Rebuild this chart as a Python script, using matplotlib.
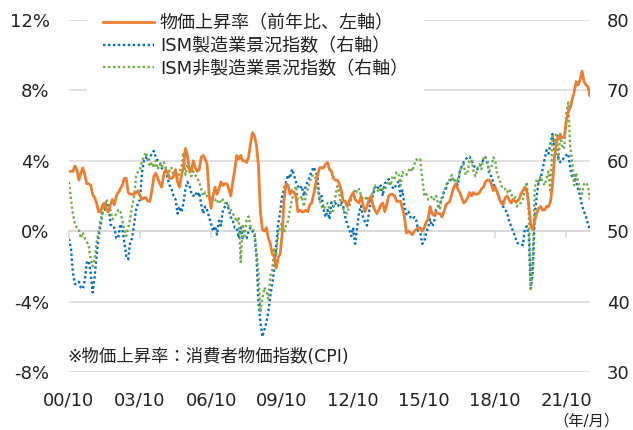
import numpy as np
import matplotlib
matplotlib.use("Agg")
from matplotlib import pyplot as plt

plt.rcParams["font.family"] = ["DejaVu Sans", "Noto Sans CJK JP"]

# monthly, 2000/10 .. 2022/10
cpi_yoy = [
    3.4, 3.4, 3.4,
    3.7, 3.5, 2.9, 3.3, 3.6, 3.2, 2.7, 2.7, 2.6, 2.1, 1.9, 1.6,
    1.1, 1.1, 1.5, 1.6, 1.2, 1.1, 1.5, 1.8, 1.5, 2.0, 2.2, 2.4,
    2.6, 3.0, 3.0, 2.2, 2.1, 2.1, 2.1, 2.2, 2.3, 2.0, 1.8, 1.9,
    1.9, 1.7, 1.7, 2.3, 3.1, 3.3, 3.0, 2.7, 2.5, 3.2, 3.5, 3.3,
    3.0, 3.0, 3.1, 3.5, 2.8, 2.5, 3.2, 3.6, 4.7, 4.3, 3.5, 3.4,
    4.0, 3.6, 3.4, 3.5, 4.2, 4.3, 4.1, 3.8, 2.1, 1.3, 2.0, 2.5,
    2.1, 2.4, 2.8, 2.6, 2.7, 2.7, 2.4, 2.0, 2.8, 3.5, 4.3, 4.1,
    4.3, 4.0, 4.0, 3.9, 4.2, 5.0, 5.6, 5.4, 4.9, 3.7, 1.1, 0.1,
    0.0, 0.2, -0.4, -0.7, -1.3, -1.4, -2.1, -1.5, -1.3, -0.2, 1.8, 2.7,
    2.6, 2.1, 2.3, 2.2, 2.0, 1.1, 1.2, 1.1, 1.1, 1.2, 1.1, 1.5,
    1.6, 2.1, 2.7, 3.2, 3.6, 3.6, 3.6, 3.8, 3.9, 3.5, 3.4, 3.0,
    2.9, 2.9, 2.7, 2.3, 1.7, 1.7, 1.4, 1.7, 2.0, 2.2, 1.8, 1.7,
    1.6, 2.0, 1.5, 1.1, 1.4, 1.8, 2.0, 1.5, 1.2, 1.0, 1.2, 1.5,
    1.6, 1.1, 1.5, 2.0, 2.1, 2.1, 2.0, 1.7, 1.7, 1.7, 1.3, 0.8,
    -0.1, 0.0, -0.1, -0.2, 0.0, 0.1, 0.2, 0.2, 0.0, 0.2, 0.5, 0.7,
    1.4, 1.0, 0.9, 1.1, 1.0, 1.0, 0.8, 1.1, 1.5, 1.6, 1.7, 2.1,
    2.5, 2.7, 2.4, 2.2, 1.9, 1.6, 1.7, 1.9, 2.2, 2.0, 2.2, 2.1,
    2.1, 2.2, 2.4, 2.5, 2.8, 2.9, 2.9, 2.7, 2.3, 2.5, 2.2, 1.9,
    1.6, 1.5, 1.9, 2.0, 1.8, 1.6, 1.8, 1.7, 1.7, 1.8, 2.1, 2.3,
    2.5, 2.3, 1.5, 0.3, 0.1, 0.6, 1.0, 1.3, 1.4, 1.2, 1.2, 1.4,
    1.4, 1.7, 2.6, 4.2, 5.0, 5.4, 5.4, 5.3, 5.4, 6.2, 6.8, 7.0,
    7.5, 7.9, 8.5, 8.3, 8.6, 9.1, 8.5, 8.3, 8.2, 7.7,
]

ism_mfg = [
    48.9, 47.5, 44.0,
    42.5, 42.5, 42.8, 42.0, 41.8, 43.0, 45.5, 45.8, 44.0, 41.3, 43.5, 46.5,
    49.3, 50.8, 52.7, 53.0, 53.8, 54.0, 51.0, 50.5, 50.5, 49.0, 49.0, 51.0,
    50.5, 48.5, 46.5, 46.0, 48.5, 49.0, 51.0, 53.0, 54.0, 54.5, 58.4, 60.0,
    60.5, 60.0, 60.5, 61.0, 61.4, 60.5, 60.0, 59.8, 59.0, 58.5, 58.4, 57.5,
    56.5, 56.0, 55.0, 54.5, 52.5, 53.5, 52.7, 54.0, 56.0, 57.0, 56.5, 55.5,
    55.0, 55.5, 55.0, 55.5, 53.8, 52.5, 53.5, 53.0, 52.0, 51.0, 50.0, 50.7,
    49.5, 51.5, 50.8, 53.0, 53.5, 54.0, 53.0, 52.0, 51.5, 50.5, 50.5, 49.0,
    50.5, 49.0, 49.0, 49.0, 50.0, 50.5, 50.0, 49.5, 46.4, 40.0, 37.1, 35.0,
    36.0, 37.0, 38.5, 40.8, 42.5, 44.5, 47.9, 51.0, 52.7, 55.0, 56.0, 57.0,
    58.0, 57.5, 58.8, 58.0, 57.0, 56.4, 56.0, 56.4, 55.0, 56.5, 57.0, 57.8,
    58.5, 59.1, 58.5, 57.5, 54.5, 55.0, 53.1, 52.0, 53.0, 51.7, 54.1, 53.5,
    54.0, 53.5, 53.8, 54.1, 53.5, 52.0, 51.0, 50.3, 49.3, 50.5, 48.2, 50.5,
    52.7, 53.6, 52.0, 51.3, 50.8, 52.7, 54.5, 55.0, 56.2, 56.5, 56.0, 56.5,
    55.0, 56.8, 57.0, 57.4, 56.5, 56.2, 56.0, 56.8, 57.0, 55.0, 55.8, 53.6,
    52.4, 52.8, 52.0, 51.7, 52.0, 51.5, 50.0, 49.8, 48.2, 48.5, 49.8, 50.5,
    51.7, 50.7, 51.2, 53.1, 53.5, 54.0, 54.5, 55.5, 56.0, 57.0, 57.2, 57.4,
    57.4, 57.0, 56.5, 58.4, 59.2, 59.8, 60.2, 60.5, 60.6, 60.0, 59.5, 58.8,
    58.8, 59.2, 59.5, 60.2, 60.5, 60.0, 58.0, 57.8, 57.0, 56.0, 55.5, 54.5,
    54.5, 53.5, 53.0, 52.7, 51.5, 50.7, 50.0, 49.3, 48.4, 48.2, 48.2, 48.0,
    50.3, 50.7, 49.5, 41.8, 44.0, 52.1, 55.0, 57.0, 57.5, 58.8, 60.2, 61.5,
    61.0, 62.5, 63.8, 61.5, 60.6, 60.5, 59.8, 60.0, 60.6, 60.8, 61.0, 59.0,
    57.6, 58.0, 57.1, 56.0, 55.0, 53.6, 52.8, 52.1, 51.0, 50.2,
]

ism_nonmfg = [
    57.0, 54.5, 52.5,
    51.0, 50.5, 50.3, 49.0, 49.8, 49.0, 48.5, 47.9, 46.0, 45.0, 46.0, 48.5,
    49.9, 51.7, 52.5, 53.5, 54.5, 53.5, 53.0, 51.7, 52.0, 52.5, 53.0, 53.0,
    51.5, 50.3, 49.3, 50.5, 51.7, 53.5, 55.0, 57.8, 58.5, 58.8, 60.0, 60.6,
    61.2, 60.0, 59.2, 59.8, 59.0, 60.0, 58.8, 59.5, 59.0, 59.8, 59.0, 58.8,
    58.5, 59.0, 57.8, 58.5, 57.5, 58.5, 59.0, 61.2, 58.0, 59.5, 58.5, 57.8,
    58.5, 58.0, 57.5, 57.0, 56.0, 55.0, 55.5, 55.0, 54.5, 55.0, 54.5, 54.5,
    54.0, 54.5, 54.0, 54.5, 54.0, 54.0, 53.5, 53.0, 52.5, 52.0, 51.3, 52.0,
    45.6, 51.0, 49.3, 51.5, 52.1, 50.7, 50.3, 50.0, 47.0, 44.2, 38.5, 40.5,
    42.0, 41.5, 40.4, 43.6, 44.5, 47.4, 46.5, 49.8, 50.5, 51.3, 49.8, 50.8,
    51.5, 53.0, 54.5, 55.4, 56.4, 54.5, 54.5, 55.0, 53.5, 55.0, 56.0, 57.0,
    57.8, 58.0, 57.5, 56.0, 54.5, 53.5, 53.1, 53.5, 54.0, 53.0, 52.5, 53.0,
    55.0, 56.4, 55.5, 53.5, 53.1, 52.7, 52.5, 53.5, 54.5, 55.0, 56.0, 55.5,
    56.0, 55.0, 54.5, 54.5, 55.0, 54.0, 55.0, 55.5, 56.5, 56.0, 55.5, 56.2,
    56.0, 55.8, 56.5, 57.1, 56.5, 57.8, 57.5, 58.4, 58.0, 56.5, 58.4, 58.0,
    58.0, 58.5, 59.0, 58.5, 59.5, 60.2, 60.0, 60.2, 57.5, 55.2, 55.5, 54.5,
    54.5, 55.0, 54.5, 55.0, 54.0, 53.1, 55.0, 55.5, 56.5, 57.0, 57.4, 58.0,
    57.0, 57.5, 57.0, 58.5, 59.1, 59.5, 58.0, 58.5, 60.0, 60.2, 58.5, 57.8,
    59.0, 59.5, 58.8, 60.5, 60.6, 59.5, 58.5, 59.0, 60.5, 60.0, 58.0, 57.5,
    56.5, 56.0, 56.0, 55.5, 56.0, 55.5, 54.5, 55.0, 53.5, 54.0, 54.0, 54.5,
    56.0, 57.0, 52.5, 41.8, 45.4, 56.0, 57.4, 57.0, 57.8, 57.0, 56.5, 57.5,
    58.5, 55.5, 63.5, 62.5, 64.0, 60.2, 64.0, 61.7, 61.9, 66.7, 68.3, 62.0,
    59.9, 56.5, 58.3, 57.1, 55.9, 55.3, 56.7, 56.9, 56.4, 54.5,
]

tick_months = [0, 36, 72, 108, 144, 180, 216, 252]
tick_labels = ["00/10", "03/10", "06/10", "09/10", "12/10", "15/10", "18/10", "21/10"]

left_ticks = [-8, -4, 0, 4, 8, 12]
left_labels = ["-8%", "-4%", "0%", "4%", "8%", "12%"]
right_ticks = [30, 40, 50, 60, 70, 80]

labels = ["物価上昇率（前年比、左軸）", "ISM製造業景況指数（右軸）", "ISM非製造業景況指数（右軸）"]
note = "※物価上昇率：消費者物価指数(CPI)"


def main():
    months = np.arange(len(cpi_yoy))
    grid_c = "#D9D9D9"
    fs = 13

    fig = plt.figure(figsize=(6.33, 4.30), dpi=100)
    ax_r = fig.add_axes([0.109, 0.135, 0.823, 0.8185])
    ax_l = ax_r.twinx()

    # right scale (ISM) underneath, left scale (CPI) on top
    ax_r.yaxis.tick_right()
    ax_l.yaxis.tick_left()

    h_mfg, = ax_r.plot(months, ism_mfg, color="#0070C0", lw=1.7,
                       linestyle=(0, (1, 1.1)), label=labels[1])
    h_non, = ax_r.plot(months, ism_nonmfg, color="#70AD47", lw=1.7,
                       linestyle=(0, (1, 1.1)), label=labels[2])
    h_cpi, = ax_l.plot(months, cpi_yoy, color="#ED7D31", lw=2.0,
                       label=labels[0], solid_joinstyle="round")

    ax_r.set_ylim(30, 80)
    ax_l.set_ylim(-8, 12)
    ax_r.set_xlim(0, len(cpi_yoy) - 1)

    ax_r.set_yticks(right_ticks)
    ax_r.set_yticklabels([str(v) for v in right_ticks], fontsize=fs)
    ax_l.set_yticks(left_ticks)
    ax_l.set_yticklabels(left_labels, fontsize=fs)
    ax_r.tick_params(axis="y", length=0, pad=12, colors="#222222")
    ax_l.tick_params(axis="y", length=0, pad=14, colors="#222222")

    ax_r.set_xticks(tick_months)
    ax_r.set_xticklabels(tick_labels, fontsize=fs)
    ax_r.tick_params(axis="x", length=0, pad=14, colors="#222222")

    ax_r.grid(axis="y", color=grid_c, lw=1.1)
    ax_r.set_axisbelow(True)
    for a in (ax_r, ax_l):
        for s in a.spines.values():
            s.set_visible(False)

    # horizontal axis crossing at 0% with small tick marks
    sec = ax_r.secondary_xaxis(0.4)
    sec.set_xticks(tick_months)
    sec.set_xticklabels([])
    sec.tick_params(axis="x", direction="out", length=5, width=1.1, color=grid_c)
    sec.spines["bottom"].set_color(grid_c)
    sec.spines["bottom"].set_linewidth(1.1)

    leg = ax_l.legend(handles=[h_cpi, h_mfg, h_non], loc="upper left",
                      bbox_to_anchor=(0.034, 1.062), fontsize=13, frameon=True,
                      facecolor="white", edgecolor="none", framealpha=1,
                      handlelength=2.8, handletextpad=0.35, labelspacing=0.26,
                      borderpad=0.9, borderaxespad=0)
    leg.get_frame().set_boxstyle("square", pad=0)
    for t in leg.get_texts():
        t.set_color("#222222")

    ax_l.text(-0.004, 0.016, note, transform=ax_l.transAxes, fontsize=12.5,
              color="#222222", ha="left", va="bottom")
    fig.text(0.978, 0.003, "（年/月）", fontsize=11, color="#222222",
             ha="right", va="bottom")

    fig.savefig("out.png", dpi=100)


if __name__ == "__main__":
    main()
